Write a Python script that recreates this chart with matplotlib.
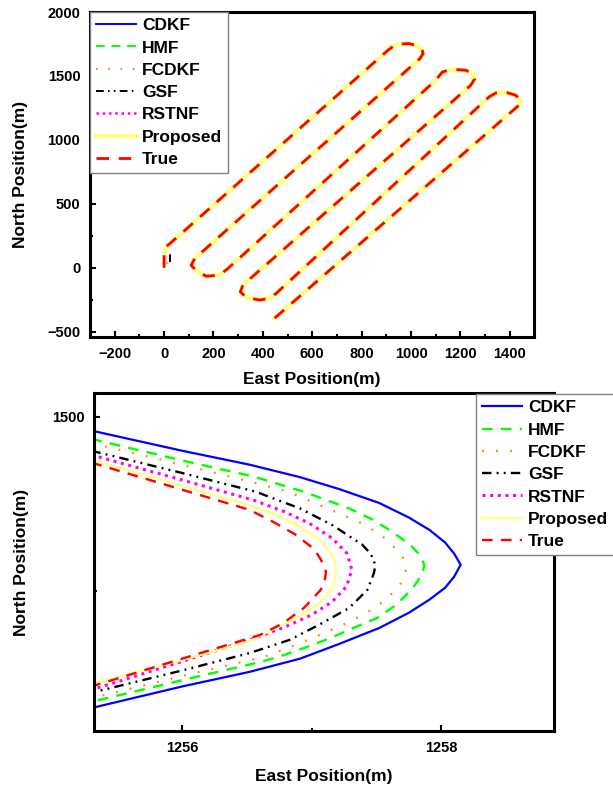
import numpy as np
import matplotlib.pyplot as plt
from matplotlib.ticker import MultipleLocator

plt.rcParams['font.family'] = ['Liberation Sans', 'DejaVu Sans']
plt.rcParams['font.weight'] = 'bold'

names = ['CDKF', 'HMF', 'FCDKF', 'GSF', 'RSTNF', 'Proposed', 'True']
colors = ['#0000FF', '#00FF00', '#FF8000', '#000000', '#FF00FF', '#FFFF80', '#FF0000']

# ---- full trajectory (top panel), metres ----
track_e = [3, 8, 30, 906, 930, 952, 993, 1026, 1045, 1049, 1036,
           124, 110, 131, 171, 225, 259,
           1100, 1127, 1168, 1222, 1251, 1258, 1242,
           319, 309, 333, 387, 427, 454,
           1316, 1343, 1383, 1424, 1444, 1437, 447]
track_n = [130, 165, 200, 1700, 1735, 1750, 1753, 1734, 1705, 1675, 1636,
           73, 19, -23, -66, -57, -5,
           1466, 1531, 1552, 1545, 1513, 1478, 1427,
           -135, -188, -232, -252, -239, -200,
           1336, 1367, 1373, 1349, 1310, 1271, -395]
# first two fixes of each filter before it joins the track
start_e = [[1, 2], [1, 2], [1, 2], [24, 24], [9, 7], [1, 2], [0, 0]]
start_n = [[20, 100], [20, 100], [20, 100], [45, 100], [30, 95], [30, 110], [0, 110]]

# ---- zoom on the second turn (bottom panel) ----
cdkf_e = [1255.30, 1256.00, 1256.52, 1256.91, 1257.21, 1257.52, 1257.75, 1257.91, 1258.03, 1258.10, 1258.15,
          1258.10, 1258.03, 1257.91, 1257.75, 1257.52, 1257.21, 1256.91, 1256.52, 1256.00, 1255.30]
cdkf_n = [1498.0, 1495.1, 1493.1, 1491.3, 1489.6, 1487.6, 1485.5, 1483.7, 1481.9, 1480.3, 1478.7,
          1477.0, 1475.4, 1473.7, 1471.8, 1469.6, 1467.3, 1465.2, 1463.3, 1461.2, 1458.1]
hmf_e = [1255.30, 1256.00, 1256.55, 1256.94, 1257.29, 1257.46, 1257.61, 1257.76, 1257.82, 1257.85, 1257.87,
         1257.85, 1257.82, 1257.77, 1257.65, 1257.50, 1257.32, 1257.15, 1256.98, 1256.80, 1256.62, 1256.00, 1255.30]
hmf_n = [1496.8, 1493.7, 1491.4, 1489.2, 1486.8, 1485.3, 1483.6, 1481.6, 1480.4, 1479.7, 1478.5,
         1477.4, 1476.4, 1475.1, 1472.9, 1471.0, 1469.6, 1468.2, 1467.0, 1465.8, 1464.8, 1462.1, 1459.0]
fcdkf_e = [1255.30, 1256.00, 1256.56, 1256.82, 1257.02, 1257.21, 1257.37, 1257.52, 1257.61, 1257.69, 1257.72,
           1257.73, 1257.72, 1257.70, 1257.64, 1257.55, 1257.46, 1257.27, 1257.06, 1256.85, 1256.64, 1256.00, 1255.30]
fcdkf_n = [1496.2, 1493.1, 1490.5, 1489.2, 1487.6, 1486.1, 1484.8, 1483.2, 1481.8, 1480.1, 1479.3,
           1478.2, 1477.3, 1476.3, 1474.9, 1473.4, 1472.2, 1470.3, 1468.6, 1467.0, 1465.5, 1462.7, 1459.5]
gsf_e = [1255.30, 1256.00, 1256.57, 1256.91, 1257.16, 1257.39, 1257.45, 1257.48, 1257.49,
         1257.48, 1257.46, 1257.43, 1257.29, 1257.06, 1256.83, 1256.52, 1256.00, 1255.30]
gsf_n = [1495.1, 1491.9, 1489.2, 1486.8, 1484.4, 1481.6, 1480.4, 1479.4, 1478.4,
         1477.5, 1476.5, 1475.1, 1472.5, 1470.1, 1467.9, 1466.0, 1463.5, 1460.3]
rstnf_e = [1255.30, 1256.00, 1256.55, 1256.78, 1256.98, 1257.16, 1257.27, 1257.29, 1257.31,
           1257.29, 1257.27, 1257.16, 1257.00, 1256.80, 1256.57, 1256.00, 1255.30]
rstnf_n = [1494.5, 1490.9, 1488.0, 1486.4, 1484.7, 1482.5, 1480.4, 1479.3, 1478.0,
           1476.8, 1475.6, 1473.4, 1471.5, 1469.8, 1468.2, 1464.8, 1460.7]
prop_e = [1255.30, 1256.00, 1256.52, 1256.73, 1256.91, 1257.06, 1257.15, 1257.18, 1257.19,
          1257.18, 1257.16, 1257.06, 1256.91, 1256.70, 1256.52, 1256.00, 1255.30]
prop_n = [1493.8, 1490.1, 1487.3, 1485.9, 1484.2, 1482.3, 1480.4, 1479.1, 1477.7,
          1476.5, 1475.3, 1473.2, 1471.3, 1469.4, 1467.7, 1465.0, 1461.5]
true_e = [1255.30, 1256.00, 1256.52, 1256.70, 1256.87, 1257.01, 1257.06, 1257.10, 1257.11,
          1257.10, 1257.07, 1256.94, 1256.78, 1256.60, 1256.00, 1255.30]
true_n = [1493.4, 1489.5, 1486.6, 1484.9, 1483.1, 1481.1, 1479.8, 1478.4, 1477.7,
          1476.3, 1475.1, 1472.5, 1470.3, 1468.6, 1465.2, 1461.2]

zoom_e = [cdkf_e, hmf_e, fcdkf_e, gsf_e, rstnf_e, prop_e, true_e]
zoom_n = [cdkf_n, hmf_n, fcdkf_n, gsf_n, rstnf_n, prop_n, true_n]

styles = [('-', 1.6), ((0, (4.5, 3.5)), 1.7), ((0, (0.8, 5.5)), 1.6),
          ((0, (4, 2.2, 0.8, 2.2, 0.8, 2.2)), 1.7), ((0, (1, 1.5)), 2.2),
          ('-', 1.6), ((0, (4.5, 3.5)), 1.7)]
top_lw = [1.4, 1.4, 1.4, 1.4, 1.8, 3.2, 2.0]


def style_axes(ax):
    for s in ax.spines.values():
        s.set_linewidth(2.2)
    ax.tick_params(which='both', direction='in', top=False, right=False,
                   width=1.5, labelsize=10.5, pad=7)
    ax.tick_params(which='major', length=4.5)
    ax.tick_params(which='minor', length=2.5)
    ax.set_xlabel('East Position(m)', fontsize=12.5, fontweight='bold')
    ax.set_ylabel('North Position(m)', fontsize=12.5, fontweight='bold')


def add_legend(ax, **kw):
    leg = ax.legend(fontsize=12.5, handlelength=2.3, handletextpad=0.35,
                    labelspacing=0.41, borderpad=0.35, borderaxespad=0,
                    fancybox=False, edgecolor='#808080', framealpha=1, **kw)
    leg.get_frame().set_linewidth(1.0)
    return leg


fig = plt.figure(figsize=(6.13, 7.9), dpi=100)

ax1 = fig.add_axes([0.1468, 0.5728, 0.7251, 0.4120])
for i, name in enumerate(names):
    e = start_e[i] + track_e
    n = start_n[i] + track_n
    ax1.plot(e, n, color=colors[i], linestyle=styles[i][0], lw=top_lw[i],
             solid_joinstyle='round', label=name)
ax1.set_xlim(-300, 1500)
ax1.set_ylim(-545, 2000)
ax1.xaxis.set_major_locator(MultipleLocator(200))
ax1.xaxis.set_minor_locator(MultipleLocator(100))
ax1.yaxis.set_major_locator(MultipleLocator(500))
ax1.yaxis.set_minor_locator(MultipleLocator(250))
style_axes(ax1)
ax1.xaxis.labelpad = 8
ax1.yaxis.labelpad = 14
add_legend(ax1, loc='upper left', bbox_to_anchor=(0, 1))

ax2 = fig.add_axes([0.1533, 0.0747, 0.7504, 0.4278])
for i, name in enumerate(names):
    ax2.plot(zoom_e[i], zoom_n[i], color=colors[i], linestyle=styles[i][0],
             lw=styles[i][1], solid_joinstyle='round', label=name)
ax2.set_xlim(1255.32, 1258.87)
ax2.set_ylim(1454.8, 1503.4)
ax2.xaxis.set_major_locator(MultipleLocator(2))
ax2.xaxis.set_minor_locator(MultipleLocator(1))
ax2.yaxis.set_major_locator(MultipleLocator(50))
ax2.yaxis.set_minor_locator(MultipleLocator(25))
style_axes(ax2)
ax2.xaxis.labelpad = 10
ax2.yaxis.labelpad = 16
add_legend(ax2, loc='upper left', bbox_to_anchor=(0.776, 0.501),
           bbox_transform=fig.transFigure)

fig.savefig('out.png', dpi=100)
